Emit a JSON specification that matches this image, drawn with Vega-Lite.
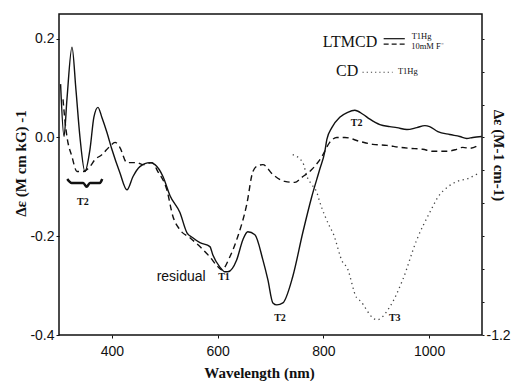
{
  "$schema": "https://vega.github.io/schema/vega-lite/v6.json",
  "width": 423,
  "height": 321,
  "autosize": {"type": "none"},
  "padding": {"left": 59, "top": 14, "right": 29, "bottom": 46},
  "background": "white",
  "config": {
    "view": {"stroke": "#111", "strokeWidth": 1.5},
    "axis": {"domain": false, "grid": false, "tickColor": "#111", "labelColor": "#111", "titleColor": "#111",
             "labelFont": "Liberation Sans", "labelFontSize": 14, "titleFont": "Liberation Serif", "titleFontSize": 15, "titleFontWeight": "bold"}
  },
  "datasets": {
    "ltmcd": [
      {"nm": 303, "de": 0.108}, {"nm": 309.5, "de": 0.002}, {"nm": 315, "de": 0.077}, {"nm": 324.6, "de": 0.183},
      {"nm": 332, "de": 0.097}, {"nm": 339.7, "de": 0.0}, {"nm": 349, "de": -0.069}, {"nm": 358.6, "de": -0.024},
      {"nm": 366, "de": 0.041}, {"nm": 373.7, "de": 0.061}, {"nm": 381, "de": 0.041}, {"nm": 390.7, "de": 0.01},
      {"nm": 400, "de": -0.024}, {"nm": 415, "de": -0.071}, {"nm": 428.5, "de": -0.106}, {"nm": 440, "de": -0.079},
      {"nm": 453, "de": -0.059}, {"nm": 472, "de": -0.051}, {"nm": 481.5, "de": -0.055}, {"nm": 496.6, "de": -0.079},
      {"nm": 510, "de": -0.118}, {"nm": 528.7, "de": -0.152}, {"nm": 542, "de": -0.193}, {"nm": 553, "de": -0.203},
      {"nm": 566.5, "de": -0.213}, {"nm": 585.4, "de": -0.221}, {"nm": 591, "de": -0.238}, {"nm": 604, "de": -0.262},
      {"nm": 613.8, "de": -0.272}, {"nm": 619.5, "de": -0.272}, {"nm": 636, "de": -0.248}, {"nm": 647.8, "de": -0.207},
      {"nm": 657, "de": -0.191}, {"nm": 670.5, "de": -0.197}, {"nm": 685.6, "de": -0.248}, {"nm": 695, "de": -0.288},
      {"nm": 704.5, "de": -0.335}, {"nm": 712, "de": -0.339}, {"nm": 723.4, "de": -0.335}, {"nm": 742, "de": -0.282},
      {"nm": 761, "de": -0.193}, {"nm": 778, "de": -0.12}, {"nm": 793, "de": -0.065}, {"nm": 802.8, "de": -0.028},
      {"nm": 806.6, "de": -0.004}, {"nm": 816, "de": 0.02}, {"nm": 831, "de": 0.041}, {"nm": 846, "de": 0.051},
      {"nm": 859.5, "de": 0.055}, {"nm": 874.7, "de": 0.047}, {"nm": 888, "de": 0.037}, {"nm": 906.8, "de": 0.026},
      {"nm": 925.7, "de": 0.022}, {"nm": 939, "de": 0.02}, {"nm": 958, "de": 0.016}, {"nm": 976.7, "de": 0.02},
      {"nm": 992, "de": 0.024}, {"nm": 1001, "de": 0.022}, {"nm": 1016.5, "de": 0.012}, {"nm": 1039, "de": 0.006},
      {"nm": 1058, "de": 0.002}, {"nm": 1071, "de": -0.002}, {"nm": 1082.6, "de": 0.0}, {"nm": 1099.6, "de": 0.002}
    ],
    "fluoride": [
      {"nm": 307.6, "de": 0.077}, {"nm": 311, "de": 0.037}, {"nm": 315, "de": 0.002}, {"nm": 324.6, "de": -0.039},
      {"nm": 334, "de": -0.069}, {"nm": 345, "de": -0.069}, {"nm": 358.6, "de": -0.059}, {"nm": 368, "de": -0.045},
      {"nm": 381, "de": -0.035}, {"nm": 396, "de": -0.018}, {"nm": 406, "de": -0.01}, {"nm": 415, "de": -0.02},
      {"nm": 428.5, "de": -0.051}, {"nm": 447, "de": -0.051}, {"nm": 459, "de": -0.055}, {"nm": 476, "de": -0.051},
      {"nm": 487, "de": -0.069}, {"nm": 504, "de": -0.106}, {"nm": 515.5, "de": -0.16}, {"nm": 528.7, "de": -0.187},
      {"nm": 547.6, "de": -0.203}, {"nm": 566.5, "de": -0.221}, {"nm": 585.4, "de": -0.242}, {"nm": 600.6, "de": -0.262},
      {"nm": 608, "de": -0.268}, {"nm": 623, "de": -0.242}, {"nm": 638, "de": -0.201}, {"nm": 655, "de": -0.136},
      {"nm": 666.7, "de": -0.069}, {"nm": 676, "de": -0.057}, {"nm": 685.6, "de": -0.055}, {"nm": 704.5, "de": -0.075},
      {"nm": 727, "de": -0.089}, {"nm": 746, "de": -0.091}, {"nm": 759, "de": -0.081}, {"nm": 778, "de": -0.065},
      {"nm": 797, "de": -0.039}, {"nm": 812, "de": -0.01}, {"nm": 825.5, "de": 0.0}, {"nm": 840.6, "de": 0.0},
      {"nm": 869, "de": -0.008}, {"nm": 893.6, "de": -0.014}, {"nm": 920, "de": -0.016}, {"nm": 944.6, "de": -0.02},
      {"nm": 963.5, "de": -0.022}, {"nm": 988, "de": -0.024}, {"nm": 1007, "de": -0.028}, {"nm": 1033.5, "de": -0.028},
      {"nm": 1052, "de": -0.024}, {"nm": 1063.7, "de": -0.02}, {"nm": 1077, "de": -0.022}, {"nm": 1096, "de": -0.014}
    ],
    "cd": [
      {"nm": 742, "de": -0.104}, {"nm": 761, "de": -0.152}, {"nm": 769, "de": -0.238}, {"nm": 778, "de": -0.286},
      {"nm": 787.7, "de": -0.335}, {"nm": 793, "de": -0.39}, {"nm": 812, "de": -0.542}, {"nm": 818, "de": -0.579},
      {"nm": 837, "de": -0.761}, {"nm": 844, "de": -0.786}, {"nm": 863, "de": -0.974}, {"nm": 869, "de": -0.99},
      {"nm": 893.6, "de": -1.096}, {"nm": 901, "de": -1.108}, {"nm": 925.7, "de": -1.029}, {"nm": 950, "de": -0.865},
      {"nm": 976.7, "de": -0.621}, {"nm": 1001, "de": -0.457}, {"nm": 1020, "de": -0.347}, {"nm": 1033.5, "de": -0.305},
      {"nm": 1052, "de": -0.268}, {"nm": 1073, "de": -0.25}, {"nm": 1096, "de": -0.213}
    ],
    "brace": [
      {"nm": 315.6, "de": -0.084}, {"nm": 323.9, "de": -0.092}, {"nm": 345.8, "de": -0.092}, {"nm": 352.3, "de": -0.1},
      {"nm": 358.5, "de": -0.092}, {"nm": 377.4, "de": -0.092}, {"nm": 381.7, "de": -0.084}
    ],
    "key": [
      {"series": "solid", "x1": 914, "x2": 954, "y": 0.2},
      {"series": "dashed", "x1": 914, "x2": 954, "y": 0.189},
      {"series": "dotted", "x1": 874, "x2": 931, "y": 0.132}
    ],
    "bigLabels": [
      {"label": "LTMCD", "nm": 902, "de": 0.193},
      {"label": "CD", "nm": 866, "de": 0.134}
    ],
    "smallLabels": [
      {"label": "T1Hg", "nm": 967, "de": 0.206},
      {"label": "10mM F⁻", "nm": 966, "de": 0.185},
      {"label": "T1Hg", "nm": 941, "de": 0.134}
    ],
    "bandLabels": [
      {"label": "T2", "nm": 345, "de": -0.13},
      {"label": "T1", "nm": 612, "de": -0.282},
      {"label": "T2", "nm": 718, "de": -0.366},
      {"label": "T3", "nm": 935, "de": -0.366},
      {"label": "T2", "nm": 863, "de": 0.03}
    ],
    "note": [
      {"label": "residual", "nm": 531, "de": -0.282}
    ]
  },
  "layer": [
    {
      "encoding": {
        "x": {"field": "nm", "type": "quantitative", "scale": {"domain": [300, 1100], "nice": false, "zero": false},
              "axis": {"values": [400, 600, 800, 1000], "format": "d", "tickSize": 3, "labelPadding": 6, "title": "Wavelength  (nm)",
                       "titleX": 200, "titleY": 37, "titleAlign": "center", "titleBaseline": "middle"}},
        "y": {"field": "de", "type": "quantitative", "scale": {"domain": [-0.4, 0.25], "nice": false, "zero": false},
              "axis": {"orient": "left", "values": [-0.4, -0.2, 0, 0.2], "tickSize": 3, "labelPadding": 2,
                       "labelExpr": "replace(format(datum.value, '.1f'), '−', '-')",
                       "title": "Δε (M cm kG) -1", "titleX": -39, "titleY": 149, "titleAngle": -90,
                       "titleAlign": "center", "titleBaseline": "middle"}}
      },
      "layer": [
        {"mark": {"type": "rule", "color": "#111", "strokeWidth": 1.5}, "encoding": {"y": {"datum": 0}, "x": {"value": 0}, "x2": {"value": 423}}},
        {"data": {"name": "ltmcd"}, "mark": {"type": "line", "color": "#111", "strokeWidth": 1.4, "interpolate": "monotone"}},
        {"data": {"name": "fluoride"}, "mark": {"type": "line", "color": "#111", "strokeWidth": 1.4, "strokeDash": [6, 4], "interpolate": "monotone"}},
        {"data": {"name": "brace"}, "mark": {"type": "line", "color": "#111", "strokeWidth": 2.5, "interpolate": "monotone"}},
        {"data": {"name": "key"}, "transform": [{"filter": "datum.series == 'solid'"}],
         "mark": {"type": "rule", "color": "#111", "strokeWidth": 1.2},
         "encoding": {"x": {"field": "x1", "type": "quantitative"}, "x2": {"field": "x2"}, "y": {"field": "y", "type": "quantitative"}}},
        {"data": {"name": "key"}, "transform": [{"filter": "datum.series == 'dashed'"}],
         "mark": {"type": "rule", "color": "#111", "strokeWidth": 1.2, "strokeDash": [5, 3]},
         "encoding": {"x": {"field": "x1", "type": "quantitative"}, "x2": {"field": "x2"}, "y": {"field": "y", "type": "quantitative"}}},
        {"data": {"name": "key"}, "transform": [{"filter": "datum.series == 'dotted'"}],
         "mark": {"type": "rule", "color": "#444", "strokeWidth": 1.2, "strokeDash": [1.2, 3]},
         "encoding": {"x": {"field": "x1", "type": "quantitative"}, "x2": {"field": "x2"}, "y": {"field": "y", "type": "quantitative"}}},
        {"data": {"name": "bigLabels"}, "mark": {"type": "text", "font": "Liberation Serif", "fontSize": 16, "align": "right", "baseline": "middle", "color": "#111"},
         "encoding": {"text": {"field": "label"}}},
        {"data": {"name": "smallLabels"}, "mark": {"type": "text", "font": "Liberation Serif", "fontSize": 8.5, "align": "left", "baseline": "middle", "color": "#111"},
         "encoding": {"text": {"field": "label"}}},
        {"data": {"name": "bandLabels"}, "mark": {"type": "text", "font": "Liberation Serif", "fontSize": 10, "fontWeight": "bold", "align": "center", "baseline": "middle", "color": "#111"},
         "encoding": {"text": {"field": "label"}}},
        {"data": {"name": "note"}, "mark": {"type": "text", "font": "Liberation Sans", "fontSize": 14, "align": "center", "baseline": "middle", "color": "#111"},
         "encoding": {"text": {"field": "label"}}}
      ]
    },
    {
      "data": {"name": "cd"},
      "mark": {"type": "line", "color": "#444", "strokeWidth": 1.3, "strokeDash": [1.3, 3.5], "interpolate": "monotone"},
      "encoding": {
        "x": {"field": "nm", "type": "quantitative", "scale": {"domain": [300, 1100], "nice": false, "zero": false}},
        "y": {"field": "de", "type": "quantitative", "scale": {"domain": [-1.2, 0.75], "nice": false, "zero": false},
              "axis": {"orient": "right", "values": [-1.2, -1.0, -0.8, -0.6, -0.4, -0.2, 0, 0.2, 0.4, 0.6], "tickSize": 2, "labelPadding": 2,
                       "labelExpr": "datum.value == -1.2 ? '-1.2' : ''",
                       "title": "Δε (M-1 cm-1)", "titleX": 16, "titleY": 141, "titleAngle": 90,
                       "titleAlign": "center", "titleBaseline": "middle"}}
      }
    }
  ],
  "resolve": {"scale": {"y": "independent"}, "axis": {"y": "independent"}}
}
